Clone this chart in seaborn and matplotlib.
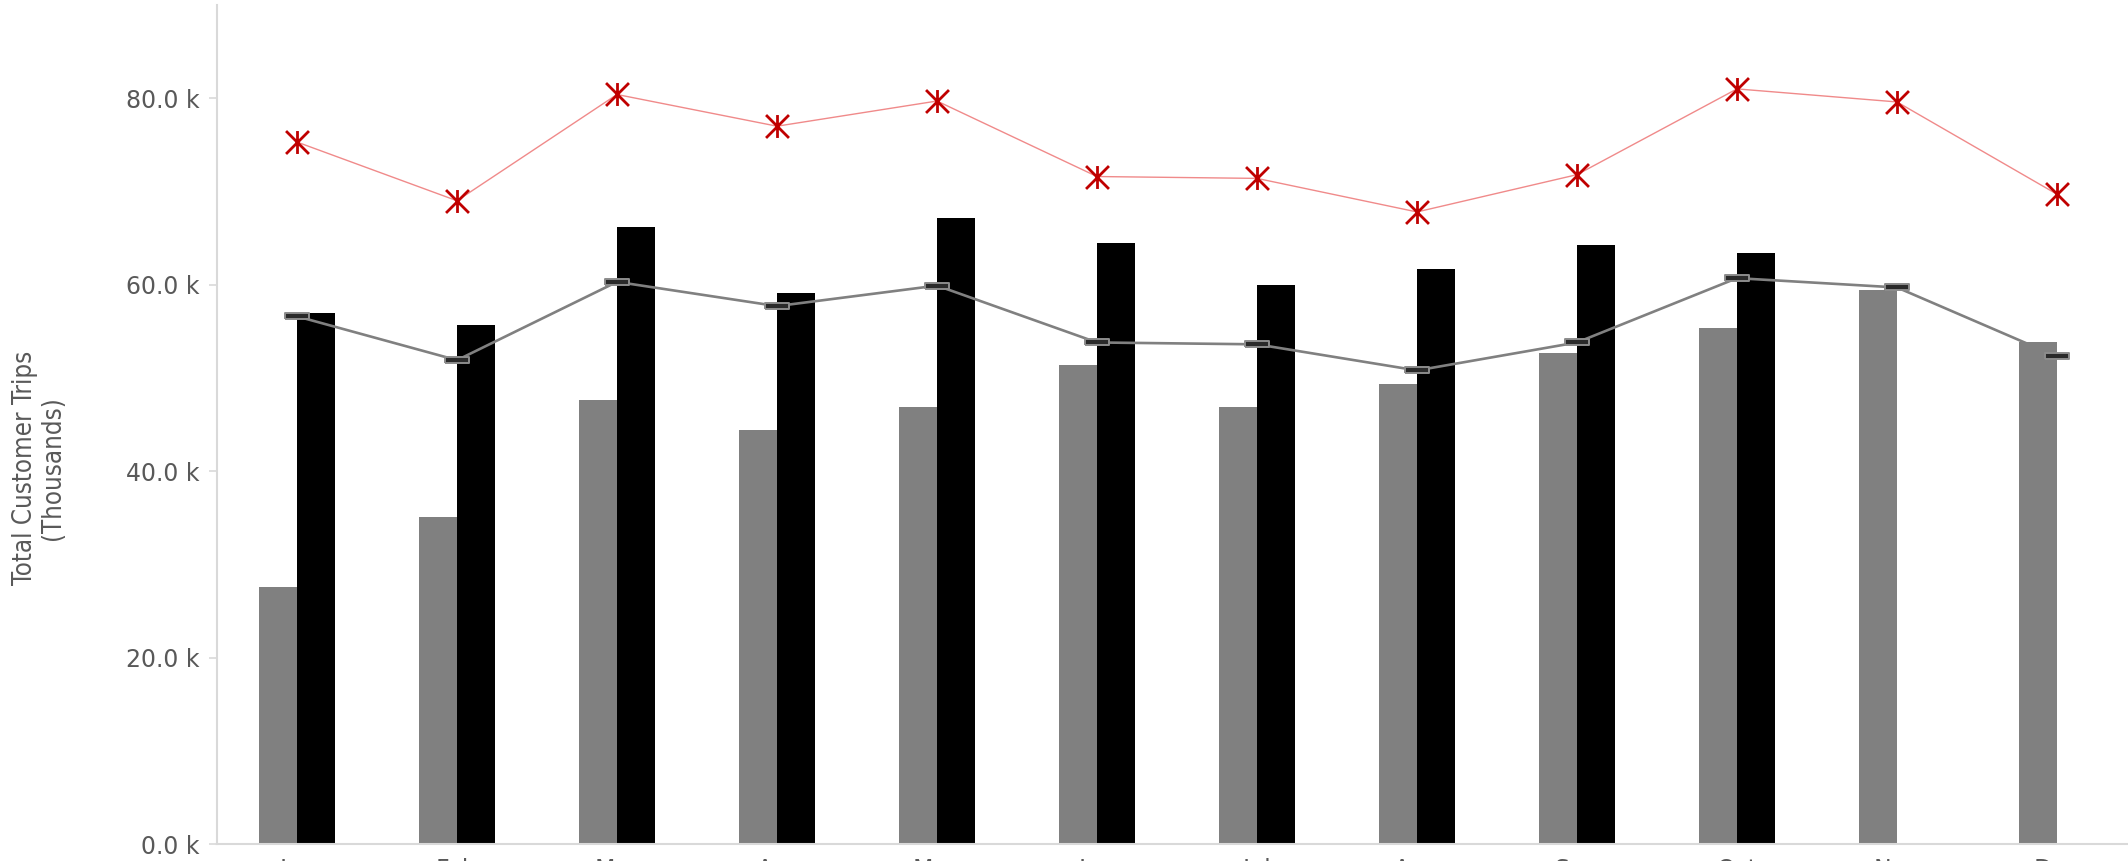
import numpy as np
import pandas as pd
import matplotlib
matplotlib.use("Agg")
import matplotlib.pyplot as plt
from matplotlib.path import Path
from matplotlib.ticker import FuncFormatter, FixedLocator
import seaborn as sns

# Monthly customer trips
months = ["Jan", "Feb", "Mar", "Apr", "May", "Jun",
          "Jul", "Aug", "Sep", "Oct", "Nov", "Dec"]
trips_gray = [27600, 35100, 47600, 44400, 46900, 51400,
              46900, 49300, 52700, 55300, 59400, 53800]
trips_black = [57000, 55700, 66200, 59100, 67100, 64500,
               60000, 61700, 64300, 63400, np.nan, np.nan]
line_gray = [56600, 51900, 60300, 57700, 59900, 53800,
             53600, 50800, 53800, 60700, 59700, 52300]
line_red = [75300, 69000, 80400, 77000, 79700, 71600,
            71400, 67800, 71800, 81000, 79600, 69700]
y_ticks = [0, 20000, 40000, 60000, 80000]

sns.set_style("white")
plt.rcParams["font.family"] = ["DejaVu Sans"]

W, H = 2128, 861
fig = plt.figure(figsize=(W / 100, H / 100), dpi=100)
ax = fig.add_axes([217 / W, 17 / H, 1920 / W, 839 / H])

bars = pd.DataFrame({
    "month": months * 2,
    "trips": trips_gray + trips_black,
    "series": ["gray"] * len(months) + ["black"] * len(months),
})
sns.barplot(data=bars, x="month", y="trips", hue="series",
            order=months, hue_order=["gray", "black"],
            palette={"gray": "#808080", "black": "#000000"},
            saturation=1, width=0.48, dodge=True, errorbar=None,
            legend=False, linewidth=0, ax=ax, zorder=2)

pos = np.arange(len(months))

# gray trend line with dash markers
dash = [(-0.5, -0.11), (0.5, -0.11), (0.5, 0.11), (-0.5, 0.11), (-0.5, -0.11)]
ax.plot(pos, line_gray, color="#808080", lw=1.9, zorder=4,
        marker=dash, ms=17.5, mfc="#2a2a2a", mec="#8c8c8c", mew=1.4)

# red trend line with asterisk markers
star = Path([(-0.5, -0.5), (0.5, 0.5), (-0.5, 0.5), (0.5, -0.5), (0, -0.5), (0, 0.5)],
            [Path.MOVETO, Path.LINETO, Path.MOVETO, Path.LINETO, Path.MOVETO, Path.LINETO])
ax.plot(pos, line_red, color="#F08a8a", lw=1.0, zorder=4)
ax.plot(pos, line_red, ls="none", marker=star, ms=16.5, mfc="none",
        mec="#C00000", mew=2.0, zorder=5)

ax.set_xlim(-0.5, len(months) - 0.5)
ax.set_ylim(0, 90000)
ax.yaxis.set_major_locator(FixedLocator(y_ticks))
ax.yaxis.set_major_formatter(FuncFormatter(lambda v, _: f"{v / 1000:.1f} k"))

ax.set_xticks(pos)
ax.set_xticklabels(months)
ax.set_xticks(np.arange(len(months) + 1) - 0.5, minor=True)
ax.tick_params(axis="x", which="major", length=0, pad=10, labelsize=17,
               labelcolor="#595959")
ax.tick_params(axis="x", which="minor", length=20, width=1.2, color="#D9D9D9",
               direction="out")
ax.tick_params(axis="y", which="major", length=6, width=1.2, color="#D9D9D9",
               pad=6.5, labelsize=17, labelcolor="#595959", direction="out", left=True)

for side in ("top", "right"):
    ax.spines[side].set_visible(False)
for side in ("left", "bottom"):
    ax.spines[side].set_color("#D9D9D9")
    ax.spines[side].set_linewidth(1.5)

ax.set_xlabel("")
ax.set_ylabel("")
fig.text(39 / W, 1 - 468 / H, "Total Customer Trips\n(Thousands)",
         rotation=90, ha="center", va="center", multialignment="center",
         fontsize=18.5, color="#595959",
         family=["Liberation Sans Narrow", "DejaVu Sans"], fontstretch="condensed",
         linespacing=1.05)

fig.savefig("out.png", dpi=100, facecolor="white")
